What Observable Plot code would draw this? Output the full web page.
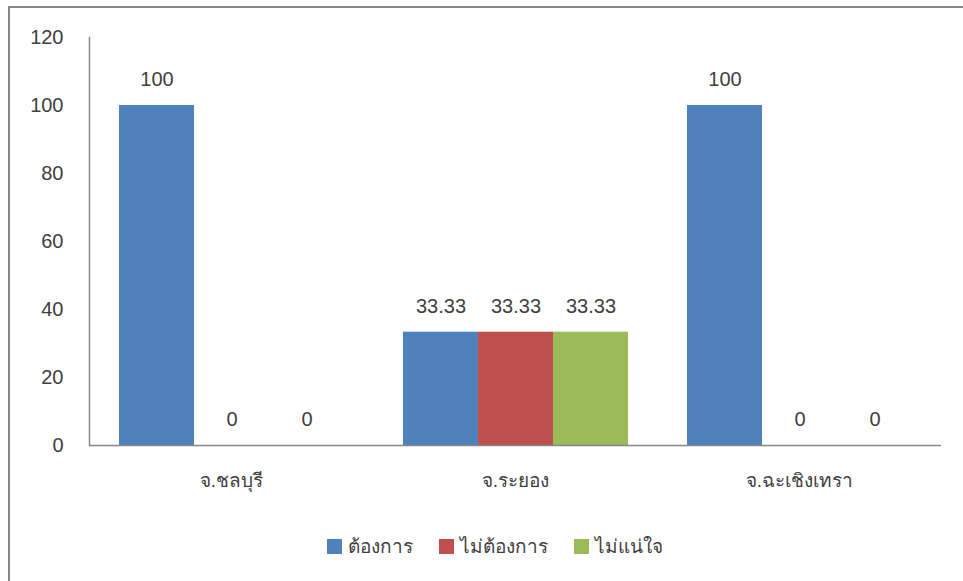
<!DOCTYPE html>
<html>
<head>
<meta charset="utf-8">
<script src="https://cdn.jsdelivr.net/npm/d3@7"></script>
<script src="https://cdn.jsdelivr.net/npm/@observablehq/plot@0.6"></script>
<style>
  html, body { margin: 0; padding: 0; background: #fff; }
  #wrap { position: relative; width: 963px; height: 581px; overflow: hidden; font-family: "Liberation Sans", "DejaVu Sans", sans-serif; color: #404040; }
  #border { position: absolute; left: 8px; top: 6px; width: 960px; height: 580px; box-sizing: border-box; border-top: 2px solid #878787; border-left: 2px solid #878787; }
  #chart { position: absolute; left: 0; top: 0; }
  #legend { position: absolute; left: 327px; top: 531px; display: flex; align-items: center; font-size: 19px; white-space: nowrap; }
  .item { display: flex; align-items: center; margin-right: 26px; }
  .sw { width: 15px; height: 15px; margin-right: 6px; }
</style>
</head>
<body>
<div id="wrap">
  <div id="border"></div>
  <div id="chart"></div>
  <div id="legend"></div>
</div>
<script>
const categories = ["จ.ชลบุรี", "จ.ระยอง", "จ.ฉะเชิงเทรา"];
const series = ["ต้องการ", "ไม่ต้องการ", "ไม่แน่ใจ"];
const wantValues = [100, 33.33, 100];
const notWantValues = [0, 33.33, 0];
const unsureValues = [0, 33.33, 0];
const seriesColors = ["#4F81BD", "#C0504D", "#9BBB59"];
const yTicks = [0, 20, 40, 60, 80, 100, 120];

const valueLists = [wantValues, notWantValues, unsureValues];
const data = categories.flatMap((c, i) =>
  series.map((s, j) => ({ cat: c, series: s, value: valueLists[j][i] }))
);

const chart = Plot.plot({
  width: 963,
  height: 505,
  marginLeft: 88,
  marginRight: 21,
  marginTop: 37,
  marginBottom: 60,
  style: { fontFamily: '"Liberation Sans", "DejaVu Sans", sans-serif', fontSize: "20px", color: "#404040", background: "transparent" },
  fx: { domain: categories, padding: 0, label: null },
  x: { domain: series, paddingInner: 0, paddingOuter: 0.373, axis: null },
  y: { domain: [0, 120], axis: null },
  color: { domain: series, range: seriesColors },
  marks: [
    Plot.barY(data, { fx: "cat", x: "series", y: "value", fill: "series" }),
    Plot.text(data, { fx: "cat", x: "series", y: "value", text: d => String(d.value), dy: -26, fontSize: 20, fill: "#404040" }),
    Plot.ruleY([0], { stroke: "#878787", strokeWidth: 1.5 }),
    Plot.frame({ anchor: "left", facetAnchor: "left", stroke: "#878787", strokeWidth: 1.5 }),
    Plot.axisY({ ticks: yTicks, tickSize: 0, tickPadding: 26, fontSize: 20, label: null, fill: "#404040" }),
    Plot.axisFx({ anchor: "bottom", tickSize: 0, tickPadding: 28, fontSize: 19, label: null, fill: "#404040" })
  ]
});
document.getElementById("chart").appendChild(chart);

const legend = document.getElementById("legend");
series.forEach((s, i) => {
  const item = document.createElement("div");
  item.className = "item";
  const sw = document.createElement("div");
  sw.className = "sw";
  sw.style.background = seriesColors[i];
  const t = document.createElement("span");
  t.textContent = s;
  item.appendChild(sw);
  item.appendChild(t);
  legend.appendChild(item);
});
</script>
</body>
</html>
